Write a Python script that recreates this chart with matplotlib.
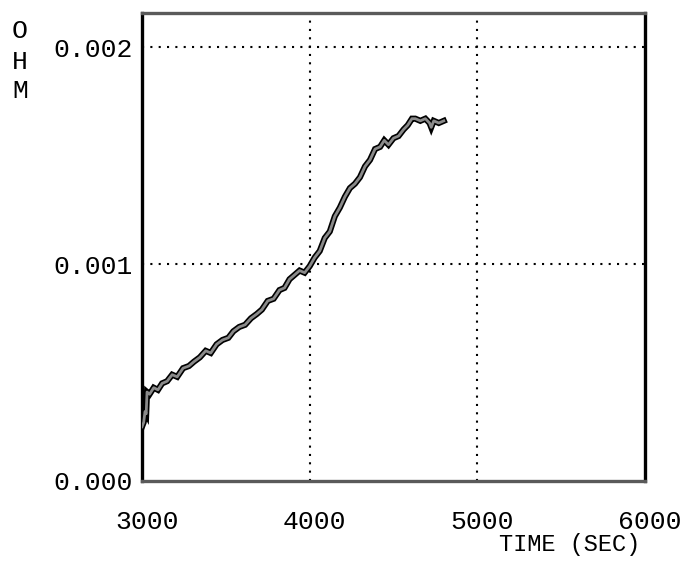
import matplotlib
matplotlib.use("Agg")
import matplotlib.pyplot as plt
from matplotlib.transforms import ScaledTranslation

# Resistance record (ohm) against time (s)
time_s = [3000, 3010, 3018, 3025, 3030, 3045, 3070, 3095, 3120, 3150, 3180, 3210,
          3245, 3280, 3310, 3345, 3380, 3410, 3445, 3480, 3515, 3545, 3580, 3615,
          3650, 3685, 3715, 3750, 3785, 3820, 3850, 3880, 3910, 3940, 3970, 4000,
          4030, 4060, 4090, 4120, 4150, 4180, 4210, 4240, 4270, 4300, 4330, 4360,
          4390, 4420, 4445, 4470, 4500, 4530, 4560, 4585, 4610, 4630, 4660, 4690,
          4715, 4725, 4740, 4770, 4800]
resistance = [0.00025, 0.00027, 0.00032, 0.00031, 0.00041, 0.00040, 0.00043, 0.00042,
              0.00045, 0.00046, 0.00049, 0.00048, 0.00052, 0.00053, 0.00055, 0.00057,
              0.00060, 0.00059, 0.00063, 0.00065, 0.00066, 0.00069, 0.00071, 0.00072,
              0.00075, 0.00077, 0.00079, 0.00083, 0.00084, 0.00088, 0.00089, 0.00093,
              0.00095, 0.00097, 0.00096, 0.00099, 0.00103, 0.00106, 0.00112, 0.00115,
              0.00122, 0.00126, 0.00131, 0.00135, 0.00137, 0.00140, 0.00145, 0.00148,
              0.00153, 0.00154, 0.00157, 0.00155, 0.00158, 0.00159, 0.00162, 0.00164,
              0.00167, 0.00167, 0.00166, 0.00167, 0.00165, 0.00163, 0.00166, 0.00165,
              0.00166]

x_ticks = [3000, 4000, 5000, 6000]
x_tick_labels = ["3000", "4000", "5000", "6000"]
y_ticks = [0.000, 0.001, 0.002]
y_tick_labels = ["0.000", "0.001", "0.002"]

FONT = "Liberation Mono"
FS = 19

fig = plt.figure(figsize=(6.92, 5.63), dpi=100)
ax = fig.add_axes([142 / 692, 1 - 481 / 563, (645 - 142) / 692, (481 - 13) / 563])

ax.set_xlim(3000, 6000)
ax.set_ylim(0, 0.002157)

# dotted grid at the interior ticks
for xv in x_ticks[1:-1]:
    ax.axvline(xv, color="black", lw=1.5, ls=(0, (1, 3)), zorder=1)
for yv in y_ticks[1:]:
    ax.axhline(yv, color="black", lw=1.5, ls=(0, (1, 3)), zorder=1)

# thick pen trace: dark outline with grey core
ax.plot(time_s, resistance, color="black", lw=4.4, solid_joinstyle="miter", zorder=3)
ax.plot(time_s, resistance, color="#8a8a8a", lw=2.0, zorder=4)

ax.set_xticks(x_ticks)
ax.set_xticklabels(x_tick_labels, fontfamily=FONT, fontsize=FS)
ax.set_yticks(y_ticks)
ax.set_yticklabels(y_tick_labels, fontfamily=FONT, fontsize=FS)
ax.tick_params(axis="x", length=0, pad=21)
ax.tick_params(axis="y", length=0, pad=7)
for lab in ax.get_xticklabels():
    lab.set_transform(lab.get_transform() + ScaledTranslation(0.05, 0, fig.dpi_scale_trans))

for side in ("left", "right"):
    ax.spines[side].set_color("black")
    ax.spines[side].set_linewidth(2.4)
for side in ("top", "bottom"):
    ax.spines[side].set_color("#5a5a5a")
    ax.spines[side].set_linewidth(2.4)

fig.text(570 / 692, 1 - 545 / 563, "TIME (SEC)", fontfamily=FONT, fontsize=17,
         ha="center", va="center")
for letter, ypix in zip("OHM", (31, 62, 91)):
    fig.text(20 / 692, 1 - ypix / 563, letter, fontfamily=FONT, fontsize=FS,
             ha="center", va="center")

fig.savefig("out.png", dpi=100)
